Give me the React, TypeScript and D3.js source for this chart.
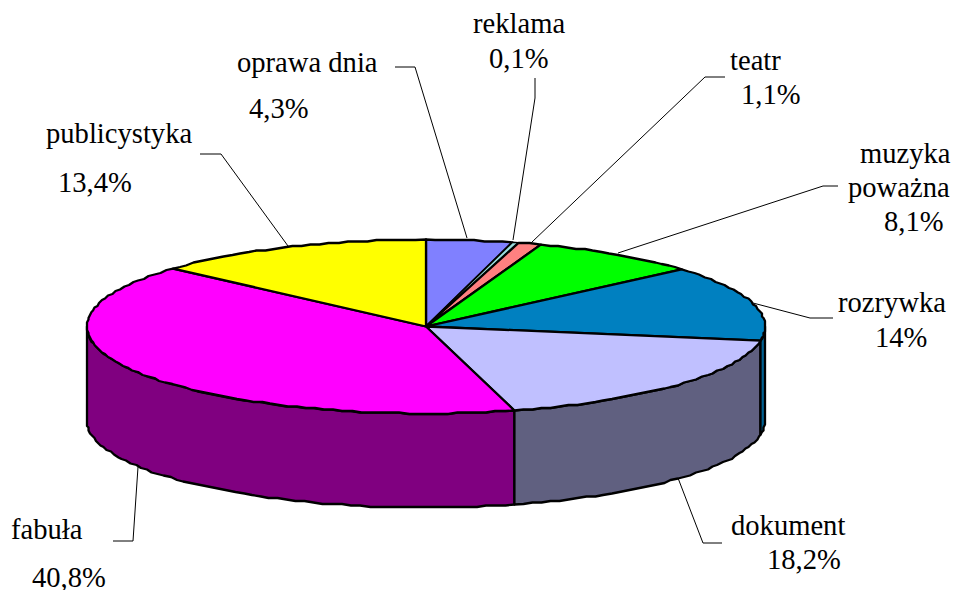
import React from "react";
import * as d3 from "d3";

const categories = ["oprawa dnia", "reklama", "teatr", "muzyka poważna", "rozrywka", "dokument", "fabuła", "publicystyka"];
// Slice sizes as drawn in the picture (the printed percentages are in the labels below).
const sliceSizes = [4.1, 0.3, 1.1, 8.1, 14, 18.2, 40.8, 13.4];
const topColors = ["#8080FF", "#99DDDD", "#FF8080", "#00FF00", "#0080C0", "#C0C0FF", "#FF00FF", "#FFFF00"];
const sideColors = ["#404080", "#4D6E6E", "#804040", "#008000", "#006090", "#606080", "#800080", "#808000"];

const CX = 426, CY = 326.5, RX = 339, RY = 87, DEPTH = 94;
const FONT = "'Liberation Serif','Times New Roman',serif";

type Lab = { text: string; x: number; y: number };
const labels: Lab[] = [
  { text: "oprawa dnia", x: 237, y: 72 },
  { text: "4,3%", x: 249, y: 118 },
  { text: "reklama", x: 473, y: 33 },
  { text: "0,1%", x: 489, y: 68 },
  { text: "teatr", x: 730, y: 70 },
  { text: "1,1%", x: 741, y: 104 },
  { text: "muzyka", x: 860, y: 163 },
  { text: "poważna", x: 848, y: 197 },
  { text: "8,1%", x: 884, y: 231 },
  { text: "rozrywka", x: 838, y: 312 },
  { text: "14%", x: 875, y: 347 },
  { text: "dokument", x: 731, y: 535 },
  { text: "18,2%", x: 767, y: 569 },
  { text: "fabuła", x: 11, y: 539 },
  { text: "40,8%", x: 32, y: 587 },
  { text: "publicystyka", x: 46, y: 143 },
  { text: "13,4%", x: 58, y: 192 },
];
const leaders: [number, number][][] = [
  [[395, 67], [415, 67], [467, 238]],
  [[535, 78], [535, 98], [513, 240]],
  [[725, 77], [705, 77], [532, 242]],
  [[838, 186], [823, 186], [618, 253]],
  [[833, 318], [810, 318], [753, 303]],
  [[722, 543], [703, 543], [678, 478]],
  [[113, 541], [133, 541], [138, 467]],
  [[200, 154], [221, 154], [288, 246]],
];

const xs = d3.scaleLinear().domain([-1, 1]).range([CX - RX, CX + RX]);
const ys = d3.scaleLinear().domain([-1, 1]).range([CY - RY, CY + RY]);
const pie = d3.pie<number>().sort(null).startAngle(0).endAngle(2 * Math.PI);
const arcs = pie(sliceSizes);
const snap = (v: number) => Math.round(v / 1.5) * 1.5;
const rim = (a0: number, a1: number, dy = 0): [number, number][] => {
  const n = Math.max(1, Math.round(Math.abs(a1 - a0) / (Math.PI / 110)));
  return d3.range(n + 1).map((i) => {
    const a = a0 + ((a1 - a0) * i) / n;
    const ends = i === 0 || i === n;
    const x = xs(Math.sin(a));
    const y = ys(-Math.cos(a)) + dy;
    return ends ? [x, y] : [snap(x), snap(y)];
  });
};
const line = d3.line();
const HALF = Math.PI / 2;

export default function App() {
  const sides = arcs
    .map((d, i) => ({ i, a0: Math.max(d.startAngle, HALF), a1: Math.min(d.endAngle, 3 * HALF) }))
    .filter((s) => s.a1 > s.a0)
    .reverse();
  return (
    <svg width={954} height={590} style={{ position: "absolute", left: 0, top: 0, background: "#fff" }}>
      {leaders.map((p, i) => (
        <path key={i} d={line(p) as string} fill="none" stroke="#000" strokeWidth={1} />
      ))}
      {sides.map((s) => (
        <path
          key={s.i}
          d={(line([...rim(s.a0, s.a1), ...rim(s.a1, s.a0, DEPTH)]) as string) + "Z"}
          fill={sideColors[s.i]}
          stroke="#000"
          strokeWidth={2.3}
          strokeLinejoin="round"
        />
      ))}
      {arcs.map((d, i) => (
        <path
          key={categories[i]}
          d={(line([[CX, CY], ...rim(d.startAngle, d.endAngle)]) as string) + "Z"}
          fill={topColors[i]}
          stroke="#000"
          strokeWidth={i === 1 ? 1.5 : 2.3}
          strokeLinejoin="round"
        />
      ))}
      {labels.map((l) => (
        <text key={l.text} x={l.x} y={l.y} fontFamily={FONT} fontSize={28.6} fill="#000">
          {l.text}
        </text>
      ))}
    </svg>
  );
}
